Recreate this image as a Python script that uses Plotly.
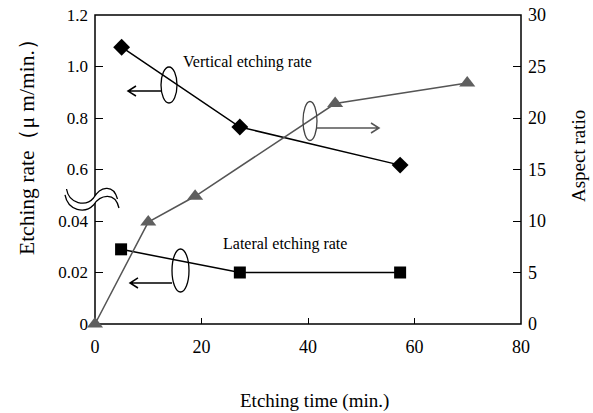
import plotly.graph_objects as go

# ---- data ----
time_vertical = [5.0, 27.2, 57.3]
vertical_rate = [1.075, 0.765, 0.617]

time_lateral = [4.9, 27.2, 57.3]
lateral_rate = [0.029, 0.020, 0.020]

time_aspect = [0, 10.0, 18.8, 45.1, 69.9]
aspect_ratio = [0, 9.9, 12.4, 21.4, 23.4]

low_ticks = [0, 0.02, 0.04]
low_ticktext = ["0", "0.02", "0.04"]
high_ticks = [0.6, 0.8, 1.0, 1.2]
high_ticktext = ["0.6", "0.8", "1.0", "1.2"]
ar_ticks = [0, 5, 10, 15, 20, 25, 30]
x_ticks = [0, 20, 40, 60, 80]

W, H = 593, 413
L, R, T, B = 95, 521, 15, 324
FONT = "Liberation Serif, Times New Roman, serif"
BREAK = 2.5 / 6


def px(x):
    return (x - L) / (R - L)


def py(y):
    return (B - y) / (B - T)


fig = go.Figure()
fig.add_trace(go.Scatter(x=time_aspect, y=aspect_ratio, yaxis="y3", mode="lines+markers",
                         line=dict(color="#555555", width=1.5),
                         marker=dict(symbol="triangle-up", size=14, color="#5f5f5f"),
                         cliponaxis=False, showlegend=False))
fig.add_trace(go.Scatter(x=time_vertical, y=vertical_rate, yaxis="y2", mode="lines+markers",
                         line=dict(color="black", width=1.5),
                         marker=dict(symbol="diamond", size=13, color="black"),
                         cliponaxis=False, showlegend=False))
fig.add_trace(go.Scatter(x=time_lateral, y=lateral_rate, yaxis="y", mode="lines+markers",
                         line=dict(color="black", width=1.5),
                         marker=dict(symbol="square", size=12, color="black"),
                         cliponaxis=False, showlegend=False))

tickfont = dict(family=FONT, size=17, color="black")
common = dict(showgrid=False, zeroline=False, showline=False, ticks="inside",
              ticklen=8, tickcolor="black", tickwidth=1.2, tickfont=tickfont,
              automargin=False)

shapes = []
# frame
shapes.append(dict(type="rect", xref="paper", yref="paper", x0=0, x1=1, y0=0, y1=1,
                   line=dict(color="black", width=1.5), layer="below"))


def seg_path(points, start_cmd="M"):
    s = "%s%.4f,%.4f" % (start_cmd, px(points[0][0]), py(points[0][1]))
    for i in range(1, len(points), 3):
        c = points[i:i + 3]
        s += " C" + " ".join("%.4f,%.4f" % (px(a), py(b)) for a, b in c)
    return s


upper = [(66.5, 189), (69, 204), (86, 207), (93.5, 198),
         (100, 187), (113, 183), (117.5, 199)]
lower = [(65, 195), (68, 211), (85, 214), (93.5, 205),
         (100, 195), (115, 191), (119, 208)]
fill_path = seg_path(upper) + " " + seg_path(lower[::-1], "L") + " Z"
shapes.append(dict(type="path", xref="paper", yref="paper", path=fill_path,
                   fillcolor="white", line=dict(width=0)))
for c in (upper, lower):
    shapes.append(dict(type="path", xref="paper", yref="paper", path=seg_path(c),
                       line=dict(color="black", width=1.3)))

# ellipses
for (cx, cy, w, h, col) in [(169, 85, 16, 36, "black"), (310, 121, 14, 39, "#444444"),
                            (180.5, 270.5, 17, 43, "black")]:
    shapes.append(dict(type="circle", xref="paper", yref="paper",
                       x0=px(cx - w / 2), x1=px(cx + w / 2), y0=py(cy + h / 2), y1=py(cy - h / 2),
                       line=dict(color=col, width=1.3)))


def arrow(x0, x1, y, col):
    d = 8 if x1 > x0 else -8
    p = "M%.4f,%.4f L%.4f,%.4f M%.4f,%.4f L%.4f,%.4f L%.4f,%.4f" % (
        px(x0), py(y), px(x1), py(y),
        px(x1 - d), py(y - 5), px(x1), py(y), px(x1 - d), py(y + 5))
    return dict(type="path", xref="paper", yref="paper", path=p,
                line=dict(color=col, width=1.5))


shapes.append(arrow(161, 128, 91, "black"))
shapes.append(arrow(317, 379, 128, "#555555"))
shapes.append(arrow(172, 130, 283, "black"))


def label(text, x, y, size, angle=0):
    return dict(text=text, x=px(x), y=py(y), xref="paper", yref="paper",
                xanchor="center", yanchor="middle", showarrow=False, textangle=angle,
                font=dict(family=FONT, size=size, color="black"))


annotations = [
    label("Vertical etching rate", 247.5, 62, 16),
    label("Lateral etching rate", 284.5, 244, 16),
    label("Etching time (min.)", 314.5, 401, 19),
    label("Etching rate（μ m/min.）", 27, 142, 21.5, -90),
    label("Aspect ratio", 578, 156, 19, -90),
]

fig.update_layout(
    width=W, height=H,
    margin=dict(l=L, r=W - R, t=T, b=H - B, autoexpand=False),
    paper_bgcolor="white", plot_bgcolor="rgba(0,0,0,0)",
    font=dict(family=FONT, color="black"),
    xaxis=dict(range=[0, 80], tickvals=x_ticks, anchor="y", ticklabelstandoff=10,
               **{**common, "ticklen": 6, "tickfont": dict(family=FONT, size=18, color="black")}),
    yaxis=dict(domain=[0, BREAK], range=[0, 0.05], tickvals=low_ticks, ticktext=low_ticktext,
               anchor="x", ticklabelstandoff=6, **common),
    yaxis2=dict(domain=[BREAK, 1], range=[0.5, 1.2], tickvals=high_ticks, ticktext=high_ticktext,
                anchor="x", ticklabelstandoff=6, **common),
    yaxis3=dict(domain=[0, 1], range=[0, 30], tickvals=ar_ticks, anchor="x", side="right",
                ticklabelstandoff=6, **{**common, "tickfont": dict(family=FONT, size=18, color="black")}),
    shapes=shapes,
    annotations=annotations,
)

fig.write_html("out.html", config={"displayModeBar": False},
               post_script="document.body.style.margin='0';")
